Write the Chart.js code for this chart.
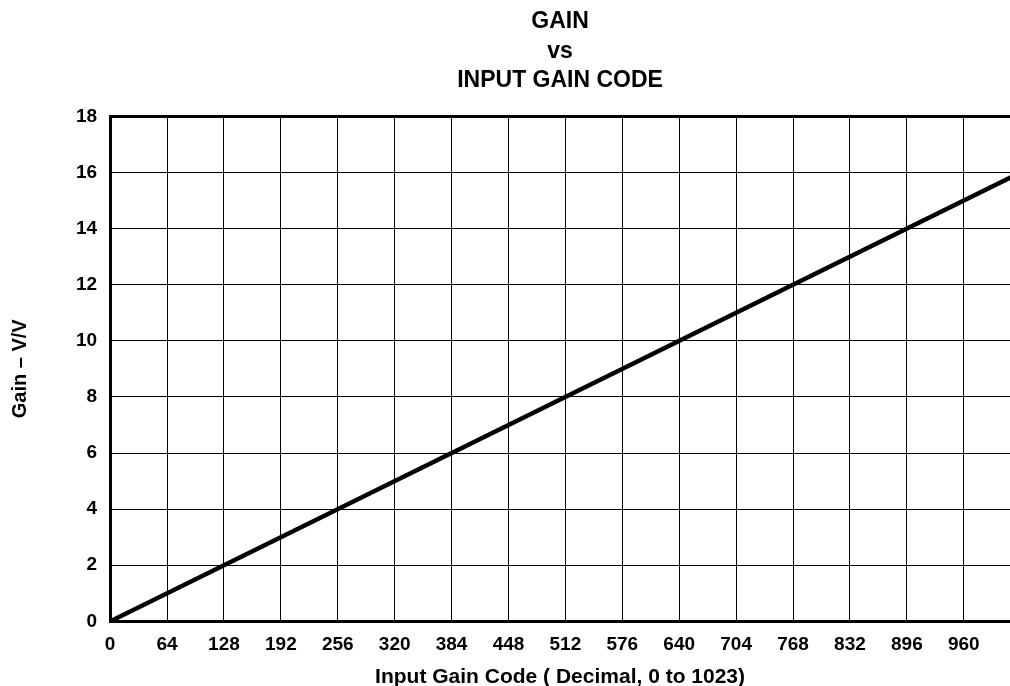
<!DOCTYPE html>
<html>
<head>
<meta charset="utf-8">
<script src="https://cdn.jsdelivr.net/npm/chart.js@4.4.0/dist/chart.umd.min.js"></script>
<style>
  html, body { margin: 0; padding: 0; background: #fff; overflow: hidden; }
  #wrap { width: 1010px; height: 686px; }
</style>
</head>
<body>
<div id="wrap"><canvas id="gainChart" width="1010" height="686"></canvas></div>
<script>
// gain follows code / 64
const codes = [0, 1023];
const gains = [0, 15.98];
const xTicks = [0, 64, 128, 192, 256, 320, 384, 448, 512, 576, 640, 704, 768, 832, 896, 960];
const yTicks = [0, 2, 4, 6, 8, 10, 12, 14, 16, 18];

const ctx = document.getElementById('gainChart').getContext('2d');
const family = '"Liberation Sans", Arial, sans-serif';
const tickFont = { family: family, weight: 'bold', size: 19 };

const chart = new Chart(ctx, {
    type: 'scatter',
    data: {
        datasets: [{
            data: codes.map((c, i) => ({ x: c, y: gains[i] })),
            showLine: true,
            borderColor: '#000',
            borderWidth: 4.5,
            pointRadius: 0,
            fill: false
        }]
    },
    options: {
        responsive: false,
        animation: false,
        layout: { padding: { left: 8, right: 0, top: 0, bottom: 0 } },
        plugins: {
            legend: { display: false },
            tooltip: { enabled: false },
            title: {
                display: true,
                fullSize: false,
                text: ['GAIN', 'vs', 'INPUT GAIN CODE'],
                color: '#000',
                font: { family: family, weight: 'bold', size: 23, lineHeight: 1.28 },
                padding: { top: 7, bottom: 21 }
            }
        },
        scales: {
            x: {
                type: 'linear',
                min: 0,
                max: 1012,
                afterBuildTicks: axis => { axis.ticks = xTicks.map(v => ({ value: v })); },
                grid: {
                    color: '#000',
                    lineWidth: c => (c.tick && c.tick.value === 0 ? 3 : 1),
                    drawTicks: false
                },
                border: { display: true, color: '#000', width: 3 },
                ticks: { color: '#000', font: tickFont, padding: 12, maxRotation: 0, autoSkip: false },
                title: {
                    display: true,
                    text: 'Input Gain Code ( Decimal, 0 to 1023)',
                    color: '#000',
                    font: { family: family, weight: 'bold', size: 21, lineHeight: 0.85 },
                    padding: { top: 0, bottom: 0 }
                }
            },
            y: {
                type: 'linear',
                min: 0,
                max: 18,
                afterBuildTicks: axis => { axis.ticks = yTicks.map(v => ({ value: v })); },
                grid: {
                    color: '#000',
                    lineWidth: c => (c.tick && (c.tick.value === 0 || c.tick.value === 18) ? 3 : 1),
                    drawTicks: false
                },
                border: { display: true, color: '#000', width: 3 },
                ticks: { color: '#000', font: tickFont, padding: 13 },
                title: {
                    display: true,
                    text: 'Gain \u2013 V/V',
                    color: '#000',
                    font: { family: family, weight: 'bold', size: 20 },
                    padding: { top: 0, bottom: 31 }
                }
            }
        }
    }
});
</script>
</body>
</html>
